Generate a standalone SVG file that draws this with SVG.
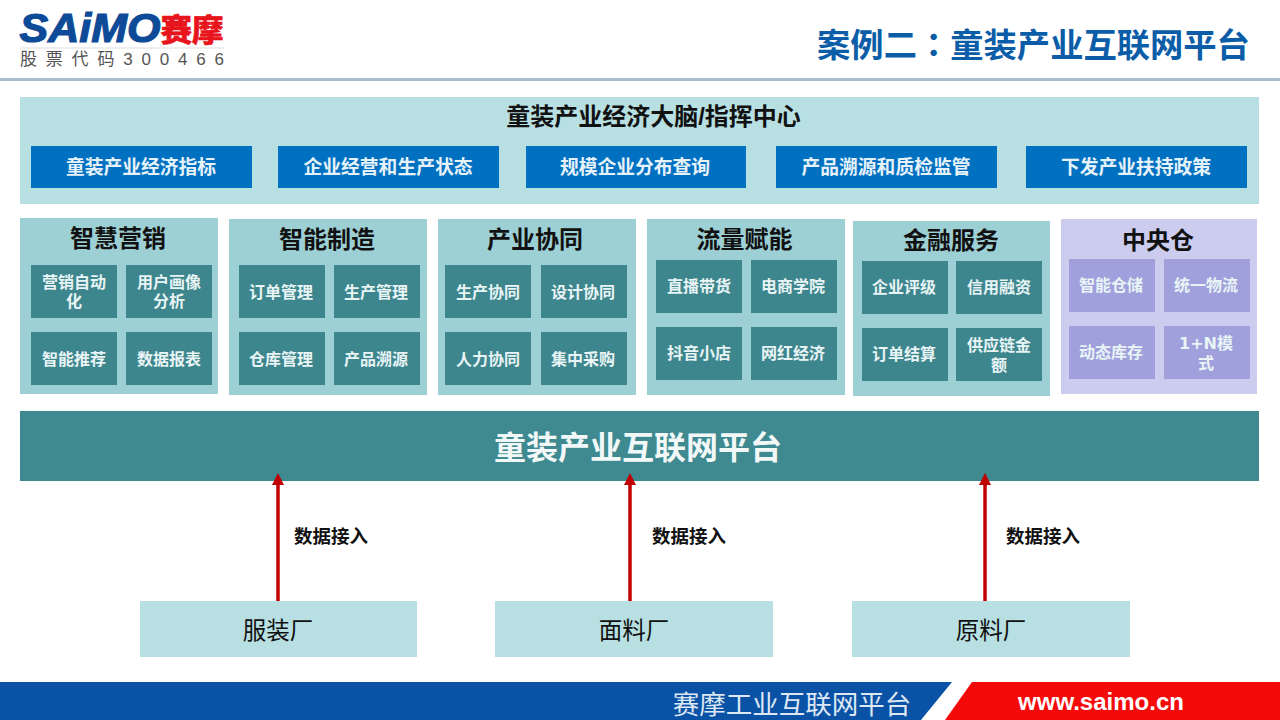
<svg xmlns="http://www.w3.org/2000/svg" width="1280" height="720" viewBox="0 0 1280 720">
<style>
text{font-family:"Liberation Sans","Noto Sans CJK SC",sans-serif;text-anchor:middle}
.pt{font-size:24px;font-weight:700;fill:#111}
.it{font-size:16px;font-weight:700;fill:#e8f4f5}
.in{fill:#3e868d}
.pn{fill:#9dd0d5}
.pi{fill:#a0a0dc}
.pp{fill:#ccccee}
.bt{fill:#0070c0}
.btx{font-size:18.8px;font-weight:700;fill:#e6f2fa}
.src{fill:#b8dfe2}
.srct{font-family:"Liberation Serif","Noto Sans CJK SC",serif;font-size:23.5px;fill:#111}
.dj{font-size:18.5px;font-weight:700;fill:#111}
.c{stroke:#c00000;stroke-width:3.5;fill:none;marker-end:url(#a)}
</style>
<defs><marker id="a" markerUnits="userSpaceOnUse" markerWidth="12" markerHeight="12" refX="0" refY="6" orient="auto" viewBox="0 0 12 12"><path d="M0 0L12 6L0 12Z" fill="#c00000"/></marker></defs>
<rect width="1280" height="720" fill="#fff"/>
<g id="header">
<text x="90" y="42" textLength="141" lengthAdjust="spacingAndGlyphs" style="font-size:40px;font-weight:700;font-style:italic;fill:#0d4a97;stroke:#0d4a97;stroke-width:1.2">SAiMO</text>
<text x="192" y="41" textLength="63" lengthAdjust="spacingAndGlyphs" style="font-size:31px;font-weight:900;fill:#e8141c;stroke:#e8141c;stroke-width:.6;font-family:'Noto Sans CJK SC',sans-serif">赛摩</text>
<line x1="20" y1="48" x2="224" y2="48" stroke="#ddd" stroke-width="1"/>
<text x="122" y="65" textLength="204" lengthAdjust="spacing" style="font-size:17px;fill:#555">股票代码300466</text>
<rect x="0" y="78" width="1280" height="3" fill="#a9bfd0"/>
<text x="1033.5" y="57" style="font-size:33.3px;font-weight:700;fill:#0b5da8">案例二<tspan style="font-family:'Noto Sans CJK TC',sans-serif">：</tspan>童装产业互联网平台</text>
</g>
<g id="top-panel">
<rect x="20" y="97" width="1239" height="107" class="src"/>
<text x="653.500" y="125" style="font-size:24px;font-weight:700;fill:#111">童装产业经济大脑/指挥中心</text>
<rect x="31" y="146" width="221" height="42" class="bt"/><text x="141" y="174" class="btx">童装产业经济指标</text>
<rect x="278" y="146" width="221" height="42" class="bt"/><text x="388" y="174" class="btx">企业经营和生产状态</text>
<rect x="526" y="146" width="220" height="42" class="bt"/><text x="635" y="174" class="btx">规模企业分布查询</text>
<rect x="776" y="146" width="221" height="42" class="bt"/><text x="886" y="174" class="btx">产品溯源和质检监管</text>
<rect x="1026" y="146" width="221" height="42" class="bt"/><text x="1136" y="174" class="btx">下发产业扶持政策</text>
</g>
<g id="panel-marketing">
<rect x="20" y="218" width="198" height="176" class="pn"/><text x="118" y="247" class="pt">智慧营销</text>
<rect x="31" y="265" width="86" height="53" class="in"/><text x="74" y="288" class="it">营销自动</text><text x="74" y="307" class="it">化</text>
<rect x="126" y="265" width="86" height="53" class="in"/><text x="169" y="288" class="it">用户画像</text><text x="169" y="307" class="it">分析</text>
<rect x="31" y="332" width="86" height="53" class="in"/><text x="74" y="365" class="it">智能推荐</text>
<rect x="126" y="332" width="86" height="53" class="in"/><text x="169" y="365" class="it">数据报表</text>
</g>
<g id="panel-manufacturing">
<rect x="229" y="219" width="198" height="176" class="pn"/><text x="327" y="248" class="pt">智能制造</text>
<rect x="239" y="265" width="86" height="53" class="in"/><text x="281" y="298" class="it">订单管理</text>
<rect x="334" y="265" width="86" height="53" class="in"/><text x="376" y="298" class="it">生产管理</text>
<rect x="239" y="332" width="86" height="53" class="in"/><text x="281" y="365" class="it">仓库管理</text>
<rect x="334" y="332" width="86" height="53" class="in"/><text x="376" y="365" class="it">产品溯源</text>
</g>
<g id="panel-collab">
<rect x="438" y="219" width="198" height="176" class="pn"/><text x="535" y="248" class="pt">产业协同</text>
<rect x="445" y="265" width="86" height="53" class="in"/><text x="488" y="298" class="it">生产协同</text>
<rect x="541" y="265" width="86" height="53" class="in"/><text x="583" y="298" class="it">设计协同</text>
<rect x="445" y="332" width="86" height="53" class="in"/><text x="488" y="365" class="it">人力协同</text>
<rect x="541" y="332" width="86" height="53" class="in"/><text x="583" y="365" class="it">集中采购</text>
</g>
<g id="panel-traffic">
<rect x="647" y="219" width="198" height="176" class="pn"/><text x="744.500" y="248" class="pt">流量赋能</text>
<rect x="656" y="260" width="86" height="53" class="in"/><text x="699" y="292" class="it">直播带货</text>
<rect x="751" y="260" width="86" height="53" class="in"/><text x="793" y="292" class="it">电商学院</text>
<rect x="656" y="327" width="86" height="53" class="in"/><text x="699" y="359" class="it">抖音小店</text>
<rect x="751" y="327" width="86" height="53" class="in"/><text x="793" y="359" class="it">网红经济</text>
</g>
<g id="panel-finance">
<rect x="853" y="221" width="197" height="175" class="pn"/><text x="951" y="249" class="pt">金融服务</text>
<rect x="862" y="261" width="86" height="53" class="in"/><text x="904" y="293" class="it">企业评级</text>
<rect x="956" y="261" width="86" height="53" class="in"/><text x="999" y="293" class="it">信用融资</text>
<rect x="862" y="328" width="86" height="53" class="in"/><text x="904" y="360" class="it">订单结算</text>
<rect x="956" y="328" width="86" height="53" class="in"/><text x="999" y="351" class="it">供应链金</text><text x="999" y="371" class="it">额</text>
</g>
<g id="panel-warehouse">
<rect x="1061" y="219" width="196" height="175" class="pp"/><text x="1158" y="249" class="pt">中央仓</text>
<rect x="1069" y="259" width="86" height="53" class="pi"/><text x="1111" y="291" class="it">智能仓储</text>
<rect x="1164" y="259" width="86" height="53" class="pi"/><text x="1206" y="291" class="it">统一物流</text>
<rect x="1069" y="326" width="86" height="53" class="pi"/><text x="1111" y="358" class="it">动态库存</text>
<rect x="1164" y="326" width="86" height="53" class="pi"/><text x="1206" y="349" class="it"><tspan style="font-family:'DejaVu Sans',sans-serif">1+N</tspan>模</text><text x="1206" y="369" class="it">式</text>
</g>
<g id="platform">
<rect x="20" y="411" width="1239" height="70" fill="#3e8a90"/>
<text x="638" y="459" style="font-size:32px;font-weight:700;fill:#f2f8f8">童装产业互联网平台</text>
</g>
<g id="connectors">
<line x1="278" y1="601" x2="278" y2="485" class="c"/>
<line x1="630" y1="601" x2="630" y2="485" class="c"/>
<line x1="985" y1="601" x2="985" y2="485" class="c"/>
</g>
<g id="labels">
<text x="331" y="543" class="dj">数据接入</text>
<text x="689" y="543" class="dj">数据接入</text>
<text x="1043" y="543" class="dj">数据接入</text>
</g>
<g id="src-1"><rect x="140" y="601" width="277" height="56" class="src"/><text x="278" y="639" class="srct">服装厂</text></g>
<g id="src-2"><rect x="495" y="601" width="278" height="56" class="src"/><text x="634" y="639" class="srct">面料厂</text></g>
<g id="src-3"><rect x="852" y="601" width="278" height="56" class="src"/><text x="991" y="639" class="srct">原料厂</text></g>
<g id="footer">
<polygon points="0,682 952,682 921,720 0,720" fill="#0a52a5"/>
<polygon points="972,682 1280,682 1280,720 945,720" fill="#f50a0a"/>
<text x="792" y="714" style="font-family:'Liberation Serif','Noto Sans CJK SC',serif;font-size:26.500px;fill:#dde8f4">赛摩工业互联网平台</text>
<text x="1101" y="710" style="font-size:24px;font-weight:700;fill:#fff">www.saimo.cn</text>
</g>
</svg>
